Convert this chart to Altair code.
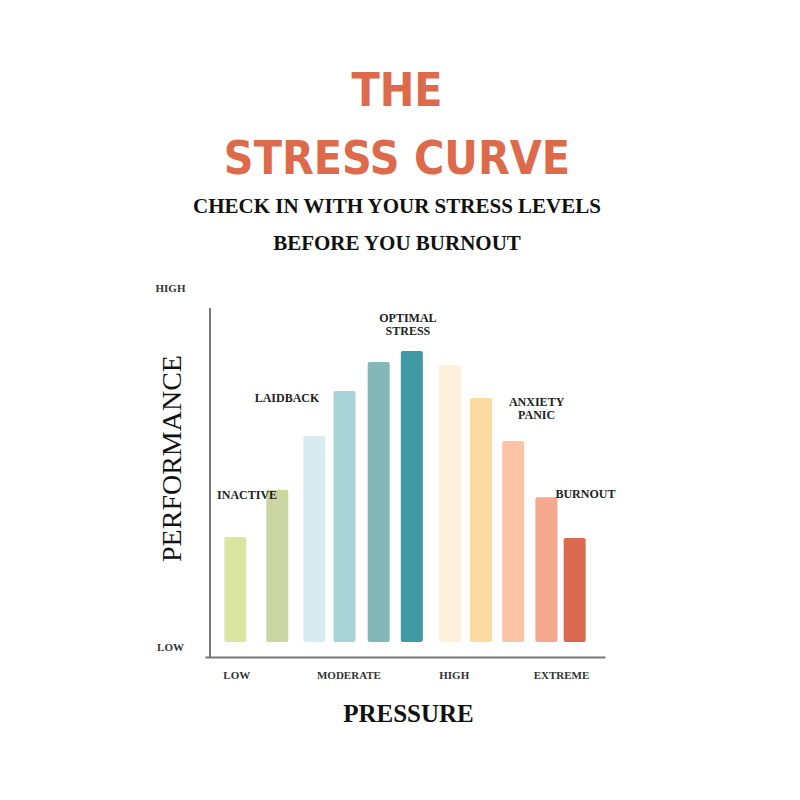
import altair as alt
import pandas as pd

# ---- data ----
pressure = [6.5, 17.25, 26.75, 34.5, 43.25, 51.75, 61.5, 69.5, 77.75, 86.25, 93.5]
performance = [34.4, 47.9, 63.3, 76.2, 84.5, 87.7, 83.7, 74.2, 61.9, 45.8, 34.1]
bar_colors = ["#d9e5a1", "#cad5a3", "#d6ecf0", "#a9d4d7", "#84b7b8", "#3f9aa3",
              "#fdf0dd", "#fdda9f", "#fbc4a5", "#f5a88e", "#d96a50"]
bar_base = 4.3

ann_text = ["INACTIVE", "LAIDBACK", "OPTIMAL\nSTRESS", "ANXIETY\nPANIC", "BURNOUT"]
ann_x = [9.5, 19.75, 50.75, 83.75, 96.25]
ann_y = [46.4, 74.2, 97.1, 73.1, 46.7]

x_tick_values = [6.75, 35.5, 62.5, 90]
x_tick_labels = ["LOW", "MODERATE", "HIGH", "EXTREME"]
y_tick_values = [2.6, 105.7]
y_tick_labels = ["LOW", "HIGH"]

title_lines = ["THE", "STRESS CURVE"]
subtitle_lines = ["CHECK IN WITH YOUR STRESS LEVELS", "BEFORE YOU BURNOUT"]

# ---- tables ----
bars = pd.DataFrame({
    "pressure": pressure,
    "performance": performance,
    "base": [bar_base] * len(pressure),
    "color": bar_colors,
    "order": list(range(len(pressure))),
})
ann = pd.DataFrame({"label": ann_text, "x": ann_x, "y": ann_y})
axis_line = pd.DataFrame({"x": [0], "y": [0], "y2": [100]})


def label_expr(values, labels):
    expr = "''"
    for v, l in reversed(list(zip(values, labels))):
        expr = f"abs(datum.value - {v}) < 0.01 ? '{l}' : ({expr})"
    return expr


xscale = alt.Scale(domain=[0, 100], nice=False, zero=False)
yscale = alt.Scale(domain=[0, 106], nice=False, zero=False)

x_axis = alt.Axis(
    title="PRESSURE",
    values=x_tick_values,
    labelExpr=label_expr(x_tick_values, x_tick_labels),
    grid=False, ticks=False, domain=True,
    domainColor="#777777", domainWidth=2,
    labelFont="Liberation Serif", labelFontWeight="bold", labelFontSize=11,
    labelColor="#333333", labelPadding=12, labelAngle=0,
    titleFont="Liberation Serif", titleFontWeight="bold", titleFontSize=25,
    titleColor="#111111", titleX=203, titleY=56, titleBaseline="middle",
)
y_axis = alt.Axis(
    title="PERFORMANCE",
    values=y_tick_values,
    labelExpr=label_expr(y_tick_values, y_tick_labels),
    grid=False, ticks=False, domain=False,
    labelFont="Liberation Serif", labelFontWeight="bold", labelFontSize=11,
    labelColor="#333333", labelPadding=35, labelAlign="center", labelBaseline="middle",
    titleFont="Liberation Serif", titleFontWeight="normal", titleFontSize=28,
    titleColor="#111111", titleX=-33, titleY=171, titleAngle=270,
    titleBaseline="middle", titleAlign="center",
)

bar_layer = alt.Chart(bars).mark_bar(size=22, cornerRadius=2).encode(
    x=alt.X("pressure:Q", scale=xscale, axis=x_axis),
    y=alt.Y("performance:Q", scale=yscale, axis=y_axis),
    y2="base:Q",
    color=alt.Color("color:N", scale=None, legend=None),
)

rule_layer = alt.Chart(axis_line).mark_rule(color="#777777", strokeWidth=2).encode(
    x=alt.X("x:Q", scale=xscale),
    y=alt.Y("y:Q", scale=yscale),
    y2="y2:Q",
)

text_layer = alt.Chart(ann).mark_text(
    font="Liberation Serif", fontWeight="bold", fontSize=12, color="#222222",
    lineBreak="\n", lineHeight=13, align="center", baseline="middle",
).encode(
    x=alt.X("x:Q", scale=xscale),
    y=alt.Y("y:Q", scale=yscale),
    text="label:N",
)

chart = alt.layer(rule_layer, bar_layer, text_layer).properties(
    width=400,
    height=370,
    padding={"left": 197, "top": 279, "right": 187, "bottom": 135},
    autosize=alt.AutoSizeParams(type="none"),
    background="#ffffff",
    title=alt.TitleParams(
        text=title_lines,
        subtitle=subtitle_lines,
        anchor="middle",
        dx=-8,
        dy=-3,
        font="DejaVu Sans Condensed, sans-serif",
        fontWeight="bold",
        fontSize=46,
        lineHeight=68,
        color="#dd6a4a",
        subtitleFont="Liberation Serif",
        subtitleFontSize=21,
        subtitleFontWeight="bold",
        subtitleColor="#111111",
        subtitleLineHeight=37,
        subtitlePadding=12,
        offset=24,
    ),
).configure_view(stroke=None)

chart.save("out.html", embed_options={"renderer": "svg", "actions": False})
